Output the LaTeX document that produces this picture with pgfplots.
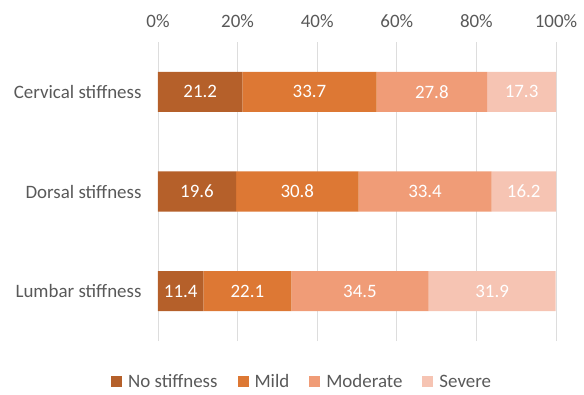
\documentclass[border=0pt]{standalone}
\usepackage{pgfplots}
\pgfplotsset{compat=1.18}
\usepackage{fontspec}
\setmainfont{Carlito}
\definecolor{cNone}{HTML}{B5602A}
\definecolor{cMild}{HTML}{DD7834}
\definecolor{cMod}{HTML}{F09C77}
\definecolor{cSev}{HTML}{F6C4B3}
\definecolor{txt}{HTML}{595959}
\definecolor{gridc}{HTML}{DDDDDD}
\begin{document}
\begin{tikzpicture}[font=\fontsize{19}{22}\selectfont]
\begin{axis}[
  name=ax, at={(0,0)}, anchor=south west,
  scale only axis, width=398bp, height=299bp,
  xbar stacked, bar width=40bp,
  xmin=0, xmax=100, ymin=-0.5, ymax=2.5,
  xtick={0,20,...,100},
  xticklabel={\pgfmathprintnumber{\tick}\%},
  /pgf/number format/assume math mode=true,
  xticklabel pos=upper,
  ytick={0,1,2},
  yticklabels={Lumbar stiffness,Dorsal stiffness,Cervical stiffness},
  xmajorgrids, major grid style={gridc, line width=0.9bp},
  axis line style={draw=none}, major tick length=0pt,
  tick label style={text=txt},
  yticklabel style={xshift=-13bp},
  xticklabel style={yshift=11bp},
  nodes near coords={\pgfmathprintnumber[fixed,precision=1,fixed zerofill]{\pgfplotspointmeta}},
  every node near coord/.append style={anchor=center, text=white},
  legend image code/.code={\fill[#1] (0bp,-5.5bp) rectangle (11bp,5.5bp);},
  legend style={at={(0.362,-0.137)}, anchor=center, draw=none, fill=none,
    legend columns=4, text=txt, inner sep=0pt,
    /tikz/every odd column/.append style={column sep=4bp},
    /tikz/every even column/.append style={column sep=18bp}},
  legend cell align=left,
]
\addplot[fill=cNone, draw=none] coordinates {(11.4,0) (19.6,1) (21.2,2)};
\addplot[fill=cMild, draw=none] coordinates {(22.1,0) (30.8,1) (33.7,2)};
\addplot[fill=cMod, draw=none] coordinates {(34.5,0) (33.4,1) (27.8,2)};
\addplot[fill=cSev, draw=none] coordinates {(31.9,0) (16.2,1) (17.3,2)};
\legend{No stiffness, Mild, Moderate, Severe}
\end{axis}
\path (ax.south west) ++(-158bp,-54bp) rectangle ++(584bp,395bp);
\end{tikzpicture}
\end{document}
